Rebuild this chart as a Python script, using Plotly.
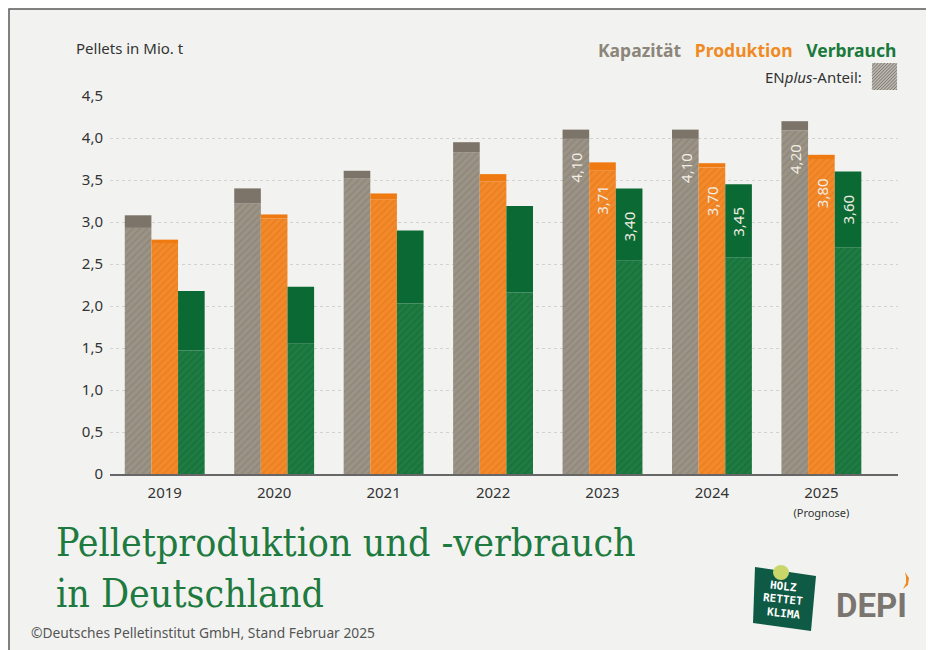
import plotly.graph_objects as go

# ---------------- data ----------------
years = ["2019", "2020", "2021", "2022", "2023", "2024", "2025"]
year_labels = ["2019", "2020", "2021", "2022", "2023", "2024",
               "2025<br><span style='font-size:11px'>(Prognose)</span>"]

kapazitaet = [3.08, 3.40, 3.61, 3.95, 4.10, 4.10, 4.20]
kapazitaet_enplus = [2.93, 3.22, 3.52, 3.83, 3.99, 3.99, 4.09]
produktion = [2.79, 3.09, 3.34, 3.57, 3.71, 3.70, 3.80]
produktion_enplus = [2.75, 3.04, 3.27, 3.48, 3.61, 3.65, 3.75]
verbrauch = [2.18, 2.23, 2.90, 3.19, 3.40, 3.45, 3.60]
verbrauch_enplus = [1.47, 1.55, 2.03, 2.16, 2.54, 2.58, 2.70]

labelled_years = ["2023", "2024", "2025"]

y_ticks = [0, 0.5, 1.0, 1.5, 2.0, 2.5, 3.0, 3.5, 4.0, 4.5]
y_tick_labels = ["0", "0,5", "1,0", "1,5", "2,0", "2,5", "3,0", "3,5", "4,0", "4,5"]

series = [
    ("Kapazität", kapazitaet, kapazitaet_enplus, "#7c7468", "#9a9386", "#857d70"),
    ("Produktion", produktion, produktion_enplus, "#ef7a12", "#f28a2c", "#e57312"),
    ("Verbrauch", verbrauch, verbrauch_enplus, "#0b6a33", "#1f7b42", "#0e6934"),
]

# ---------------- layout geometry ----------------
W, H = 934, 650
OFF = 8  # page body margin
# plot area in screenshot pixels
PL, PR, PT, PB = 110, 898, 96, 474
ML, MR, MT, MB = PL - OFF, W - (PR - OFF), PT - OFF, H - (PB - OFF)
PW, PH = PR - PL, PB - PT
BARGAP = 0.27


def X(px):
    return (px - PL) / PW


def Y(py):
    return (PB - py) / PH


fig = go.Figure()

for name, total, enplus, solid, hbg, hfg in series:
    fig.add_trace(go.Bar(
        x=years, y=enplus, name=name + " ENplus", offsetgroup=name,
        marker=dict(color=hbg, line=dict(width=0),
                    pattern=dict(shape="/", bgcolor=hbg, fgcolor=hfg,
                                 size=5, solidity=0.35)),
        showlegend=False, hoverinfo="skip"))
    fig.add_trace(go.Bar(
        x=years, y=[t - e for t, e in zip(total, enplus)], base=enplus,
        name=name, offsetgroup=name,
        marker=dict(color=solid, line=dict(width=0)),
        showlegend=False, hoverinfo="skip"))

annotations = []
# value labels inside bars
bw = (1 - BARGAP) / 3
for si, (name, total, enplus, solid, hbg, hfg) in enumerate(series):
    for yr in labelled_years:
        i = years.index(yr)
        annotations.append(dict(
            x=i + (si - 1) * bw, y=total[i], xref="x", yref="y",
            text=f"{total[i]:.2f}".replace(".", ","), showarrow=False,
            textangle=-90, yanchor="top", xanchor="center", yshift=-21,
            font=dict(family="Noto Sans", size=15, color="#f1ede4")))

# axis title
annotations.append(dict(x=X(74), y=Y(48), xref="paper", yref="paper",
                        text="Pellets in Mio. t", showarrow=False,
                        xanchor="left", yanchor="middle",
                        font=dict(family="Noto Sans", size=15, color="#333333")))
# legend texts
annotations.append(dict(
    x=X(898), y=Y(50), xref="paper", yref="paper", showarrow=False,
    xanchor="right", yanchor="middle",
    text="<b><span style='color:#8c8579'>Kapazität</span>&nbsp;&nbsp;&nbsp;"
         "<span style='color:#f08a24'>Produktion</span>&nbsp;&nbsp;&nbsp;"
         "<span style='color:#1a7a3c'>Verbrauch</span></b>",
    font=dict(family="Noto Sans", size=17.5)))
annotations.append(dict(
    x=X(864), y=Y(77), xref="paper", yref="paper", showarrow=False,
    xanchor="right", yanchor="middle", text="EN<i>plus</i>-Anteil:",
    font=dict(family="Noto Sans", size=15, color="#333333")))
# title
annotations.append(dict(
    x=X(54), y=Y(518), xref="paper", yref="paper", showarrow=False,
    xanchor="left", yanchor="top", align="left",
    text="Pelletproduktion und -verbrauch<br>in Deutschland",
    font=dict(family="DejaVu Serif Condensed, DejaVu Serif", size=39, color="#1e7a3e")))
# copyright
annotations.append(dict(
    x=X(29), y=Y(632), xref="paper", yref="paper", showarrow=False,
    xanchor="left", yanchor="middle",
    text="©Deutsches Pelletinstitut GmbH, Stand Februar 2025",
    font=dict(family="Noto Sans", size=13.8, color="#555555")))
# logo texts
for txt, py in [("HOLZ", 586), ("RETTET", 599.5), ("KLIMA", 613)]:
    annotations.append(dict(
        x=X(783), y=Y(py), xref="paper", yref="paper", showarrow=False,
        xanchor="center", yanchor="middle", text=f"<b>{txt}</b>", textangle=6,
        font=dict(family="DejaVu Sans Mono", size=11, color="#ffffff")))
annotations.append(dict(
    x=X(871), y=Y(605), xref="paper", yref="paper", showarrow=False,
    xanchor="center", yanchor="middle", text="<b>DEPI</b>",
    font=dict(family="Roboto", size=33, color="#7b7570")))

shapes = []
# background frame
shapes.append(dict(type="rect", xref="paper", yref="paper", layer="below",
                   x0=X(9), x1=X(960), y0=Y(680), y1=Y(9),
                   fillcolor="#f2f3f1", line=dict(color="#5a5a5a", width=1.5)))
# legend swatch
sx0, sx1, sy0, sy1 = 872, 897, 63, 90
shapes.append(dict(type="rect", xref="paper", yref="paper",
                   x0=X(sx0), x1=X(sx1), y0=Y(sy1), y1=Y(sy0),
                   fillcolor="#b9b5ad", line=dict(width=0)))
segs = []
c = sx0 + sy0
while c <= sx1 + sy1:
    xa, xb = max(sx0, c - sy1), min(sx1, c - sy0)
    if xb > xa:
        segs.append(f"M {X(xa):.5f},{Y(c - xa):.5f} L {X(xb):.5f},{Y(c - xb):.5f}")
    c += 3.2
shapes.append(dict(type="path", xref="paper", yref="paper", path=" ".join(segs),
                   line=dict(color="#7d7a74", width=1)))
# HOLZ RETTET KLIMA logo body
quad = [(755, 567), (816, 576), (811, 631), (753, 623)]
shapes.append(dict(type="path", xref="paper", yref="paper",
                   path="M " + " L ".join(f"{X(a):.5f},{Y(b):.5f}" for a, b in quad) + " Z",
                   fillcolor="#0f5a44", line=dict(width=0)))
shapes.append(dict(type="circle", xref="paper", yref="paper",
                   x0=X(773), x1=X(789), y0=Y(580), y1=Y(565),
                   fillcolor="#c9d66a", line=dict(width=0)))
# DEPI flame
flame = [(905, 572), (909, 578), (908, 585), (903, 589), (906, 583), (906, 577)]
shapes.append(dict(type="path", xref="paper", yref="paper",
                   path="M " + " L ".join(f"{X(a):.5f},{Y(b):.5f}" for a, b in flame) + " Z",
                   fillcolor="#f08a24", line=dict(width=0)))

fig.update_layout(
    width=W, height=H,
    margin=dict(l=ML, r=MR, t=MT, b=MB),
    barmode="group", bargap=BARGAP, bargroupgap=0,
    paper_bgcolor="#ffffff", plot_bgcolor="rgba(0,0,0,0)",
    showlegend=False,
    annotations=annotations, shapes=shapes,
    xaxis=dict(type="category", range=[-0.5, 6.7], tickmode="array",
               tickvals=years, ticktext=year_labels, showgrid=False,
               showline=True, linecolor="#666666", linewidth=1.5, ticks="",
               ticklabelstandoff=4,
               tickfont=dict(family="Noto Sans", size=15, color="#333333")),
    yaxis=dict(range=[0, 4.5], tickmode="array", tickvals=y_ticks,
               ticktext=y_tick_labels, showgrid=True, gridcolor="#d2d2d0",
               griddash="dot", gridwidth=1, zeroline=False, showline=False,
               ticks="", ticklabelstandoff=6,
               tickfont=dict(family="Noto Sans", size=15, color="#333333")),
)

fig.write_html("out.html")
